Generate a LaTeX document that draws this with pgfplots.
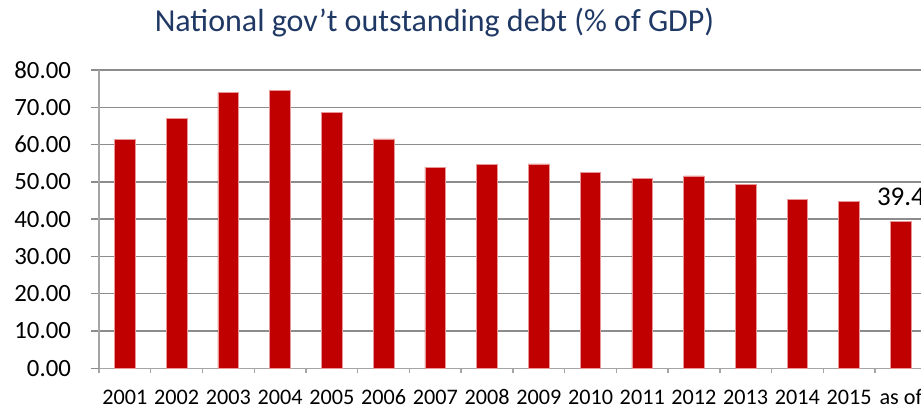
\documentclass[border=0pt]{standalone}
\usepackage{fontspec}
\setmainfont{Carlito}
\usepackage{pgfplots}
\pgfplotsset{compat=1.18}
\definecolor{barred}{RGB}{192,0,0}
\definecolor{baredge}{RGB}{232,150,150}
\definecolor{titleblue}{RGB}{31,56,100}
\definecolor{gridgray}{RGB}{140,140,140}
\definecolor{axgray}{RGB}{165,165,165}
\begin{document}
\begin{tikzpicture}
\begin{axis}[
  name=ax,
  scale only axis,
  width=413.9pt, height=149.15pt,
  xmin=-0.5, xmax=15.5,
  ymin=0, ymax=80,
  ytick={0,10,...,80},
  xtick={0,...,15},
  xticklabels={2001,2002,2003,2004,2005,2006,2007,2008,2009,2010,2011,2012,2013,2014,2015,as of},
  minor xtick={-0.5,0.5,...,15.5},
  axis x line*=bottom, axis y line*=left,
  axis line style={axgray, line width=0.7pt},
  tick align=outside,
  major tick length=4pt,
  minor tick length=2.5pt,
  major x tick style={draw=none},
  minor x tick style={axgray, line width=0.7pt},
  major y tick style={gridgray, line width=0.7pt},
  ymajorgrids,
  grid style={gridgray, line width=0.7pt},
  /pgf/number format/assume math mode=true,
  yticklabel={\pgfmathprintnumber[fixed,fixed zerofill,precision=2]{\tick}},
  yticklabel style={font=\fontsize{12.4}{14}\selectfont, xshift=-6.5pt},
  xticklabel style={font=\fontsize{11.1}{13}\selectfont, anchor=base, yshift=-14pt},
  clip=false,
]
\addplot[ybar, bar width=0.4, bar shift=0pt, fill=barred, draw=baredge, line width=0.4pt]
coordinates {(0,61.4) (1,67.1) (2,73.9) (3,74.6) (4,68.6) (5,61.5) (6,53.9) (7,54.7)
 (8,54.8) (9,52.5) (10,51.0) (11,51.6) (12,49.3) (13,45.3) (14,44.7) (15,39.4)};
\addplot[ybar, bar width=0.4, bar shift=0pt, draw=none, fill=none,
  point meta=explicit symbolic, nodes near coords,
  nodes near coords style={font=\fontsize{13.5}{15}\selectfont, anchor=base, yshift=8pt, text=black}]
coordinates {(15,39.4) [39.4]};
\end{axis}
\node[anchor=base, font=\fontsize{16}{19}\selectfont, text=titleblue] at ([shift={(167.75pt,168.3pt)}]ax.south west) {National gov’t outstanding debt (\% of GDP)};
\pgfresetboundingbox
\path[use as bounding box] ([shift={(-49.5pt,-19.85pt)}]ax.south west) rectangle ([shift={(411pt,184.15pt)}]ax.south west);
\end{tikzpicture}
\end{document}
